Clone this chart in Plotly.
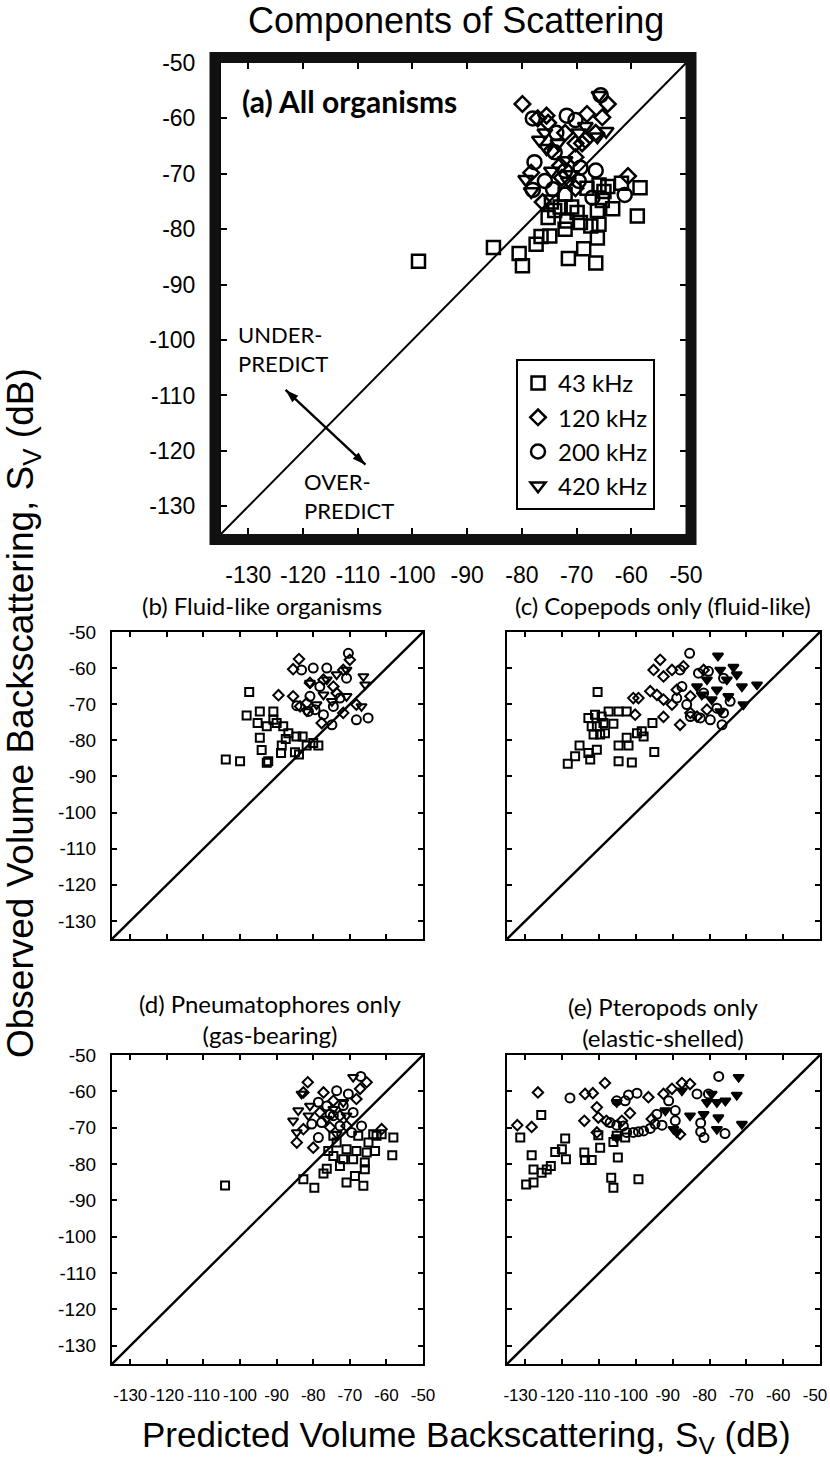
import plotly.graph_objects as go

# ---------------- data ----------------
AXIS_RANGE = [-135, -50]
TICK_VALS = [-130, -120, -110, -100, -90, -80, -70, -60, -50]
TICK_TEXT = ["-130", "-120", "-110", "-100", "-90", "-80", "-70", "-60", "-50"]
FREQ_LABELS = ["43 kHz", "120 kHz", "200 kHz", "420 kHz"]

# (a) All organisms
a_43_x = [-98.9, -85.2, -80.5, -79.9, -77.4, -76.5, -74.9, -75.2, -74.0, -72.1, -71.8, -71.5, -70.9, -72.1, -69.3, -68.7, -67.4, -66.2, -65.9, -66.5, -66.2, -65.3, -65.9, -64.3, -63.4, -61.8, -58.4, -58.9, -68.1, -65.0, -74.6, -73.0, -69.9]
a_43_y = [-85.8, -83.3, -84.4, -86.6, -82.7, -81.3, -81.2, -77.9, -76.6, -80.0, -78.5, -85.3, -76.0, -73.7, -78.8, -83.5, -79.4, -81.6, -79.1, -86.1, -76.6, -74.8, -72.0, -72.3, -76.3, -71.7, -72.5, -77.6, -72.6, -73.2, -75.1, -76.0, -77.0]
a_120_x = [-79.9, -77.1, -75.5, -64.3, -65.3, -68.1, -69.0, -68.4, -70.2, -72.1, -73.0, -70.2, -60.6, -78.3, -76.2, -72.7, -70.2, -75.2, -66.5, -74.6]
a_120_y = [-57.4, -60.0, -59.5, -57.4, -59.8, -59.2, -64.5, -63.9, -64.5, -62.6, -68.5, -67.0, -70.4, -69.8, -75.1, -70.7, -72.6, -60.8, -62.6, -65.8]
a_200_x = [-65.6, -78.0, -71.8, -70.2, -73.7, -77.7, -74.0, -69.3, -66.5, -69.6, -74.3, -78.0, -67.1, -61.2, -72.1, -75.8]
a_200_y = [-55.8, -60.0, -59.5, -60.3, -62.6, -67.9, -66.1, -68.9, -69.4, -71.3, -72.8, -72.9, -74.3, -73.8, -69.5, -71.3]
a_420_x = [-65.9, -64.6, -66.2, -76.8, -75.5, -73.4, -79.3, -78.3, -71.5, -69.6, -68.4, -72.1, -74.6, -70.9, -75.8]
a_420_y = [-55.8, -62.3, -63.3, -63.9, -65.4, -64.5, -71.0, -73.2, -71.3, -62.6, -61.4, -67.6, -69.5, -70.1, -62.6]

# (b) Fluid-like organisms
b_43_x = [-103.9, -100.0, -97.5, -98.2, -94.6, -90.9, -95.2, -92.7, -90.0, -94.6, -94.1, -92.7, -92.3, -88.2, -86.8, -88.6, -88.8, -84.6, -82.9, -85.0, -83.9, -81.8, -78.6, -80.0, -87.5, -90.9]
b_43_y = [-85.3, -85.8, -66.6, -73.1, -72.0, -72.0, -75.2, -76.1, -75.2, -79.3, -82.7, -86.2, -85.8, -76.1, -78.0, -81.4, -83.5, -78.9, -78.9, -83.3, -83.9, -81.4, -81.4, -80.7, -79.6, -74.3]
b_120_x = [-83.9, -85.5, -89.5, -85.5, -83.6, -80.9, -77.2, -74.5, -70.0, -71.8, -77.7, -71.8, -68.2, -81.8, -73.6]
b_120_y = [-57.5, -60.3, -67.5, -67.8, -70.6, -64.1, -63.2, -65.1, -57.7, -60.5, -75.2, -72.4, -70.1, -69.7, -66.9]
b_200_x = [-83.2, -80.0, -76.3, -70.4, -70.9, -80.9, -84.5, -77.2, -74.9, -68.2, -65.0, -74.5, -79.5, -72.7, -78.2, -81.3]
b_200_y = [-60.5, -60.0, -60.0, -55.9, -62.8, -67.8, -70.4, -72.9, -75.7, -74.3, -73.8, -70.6, -71.5, -68.3, -65.1, -72.0]
b_420_x = [-66.3, -65.8, -70.9, -73.6, -77.2, -70.9, -66.8, -80.9, -79.1, -74.9, -81.8, -76.3]
b_420_y = [-62.3, -64.6, -60.5, -61.8, -67.4, -67.8, -70.6, -64.1, -70.1, -69.2, -72.0, -63.2]

# (c) Copepods only (fluid-like)
c_43_x = [-110.4, -118.5, -116.5, -115.3, -112.9, -112.4, -110.6, -109.7, -112.9, -112.0, -111.1, -109.3, -107.4, -111.5, -108.4, -106.1, -104.7, -102.5, -104.7, -102.5, -102.0, -99.7, -98.4, -97.9, -104.7, -101.1, -95.5, -95.0, -110.6, -108.8]
c_43_y = [-66.6, -86.5, -84.4, -81.4, -83.5, -85.3, -82.6, -78.4, -73.8, -76.1, -72.9, -73.4, -72.0, -78.4, -78.0, -75.4, -72.0, -72.0, -81.4, -79.3, -81.4, -78.0, -77.5, -78.9, -85.8, -86.1, -75.2, -83.2, -76.1, -75.2]
c_120_x = [-100.7, -99.3, -100.2, -96.1, -95.2, -93.4, -92.5, -90.2, -94.3, -92.5, -92.5, -88.0, -85.2, -83.4, -90.2, -88.9, -85.2, -80.7, -87.1, -81.6]
c_120_y = [-68.3, -68.3, -72.9, -66.4, -60.5, -57.7, -62.3, -60.5, -67.4, -68.7, -73.5, -75.7, -72.4, -73.4, -70.1, -66.0, -67.8, -71.5, -59.5, -60.5]
c_200_x = [-85.4, -88.0, -83.0, -80.3, -76.2, -88.9, -86.2, -85.2, -82.5, -79.8, -76.6, -74.4, -78.0, -81.6, -76.2, -87.5]
c_200_y = [-55.9, -60.5, -61.4, -60.9, -62.8, -68.3, -70.1, -73.4, -73.8, -74.3, -75.7, -69.2, -71.1, -66.9, -72.4, -65.1]
c_420_x = [-77.7, -73.5, -77.1, -72.6, -71.2, -67.1, -70.8, -74.9, -82.1, -83.4, -79.4, -78.0, -75.3, -80.7, -77.1]
c_420_y = [-56.6, -59.7, -60.5, -61.8, -65.1, -64.6, -70.1, -67.8, -67.4, -65.1, -68.7, -66.0, -63.2, -63.2, -72.0]

# (d) Pneumatophores only (gas-bearing)
d_43_x = [-104.1, -82.7, -79.7, -77.2, -76.3, -72.7, -74.5, -71.8, -70.9, -68.6, -66.3, -65.9, -65.9, -69.1, -68.2, -65.4, -63.1, -64.9, -62.7, -63.6, -61.3, -58.1, -58.4, -73.6, -70.9, -75.9, -74.5, -67.7]
d_43_y = [-85.9, -84.2, -86.5, -82.6, -81.3, -80.5, -77.8, -78.7, -85.1, -83.3, -86.0, -81.4, -79.6, -78.7, -76.4, -76.8, -76.4, -74.1, -72.2, -71.8, -71.8, -72.7, -77.6, -74.1, -75.9, -76.4, -72.2, -72.2]
d_120_x = [-81.5, -82.7, -77.2, -74.5, -65.4, -67.2, -84.5, -80.0, -82.7, -75.4, -61.3, -70.9, -78.2, -72.7, -68.2]
d_120_y = [-57.5, -60.3, -60.3, -62.6, -57.5, -59.3, -74.1, -75.5, -70.4, -69.9, -70.4, -69.5, -65.8, -66.7, -62.1]
d_200_x = [-67.0, -73.6, -70.4, -78.6, -75.4, -77.7, -80.4, -72.7, -69.5, -66.8, -78.6, -74.5, -71.8, -76.3, -69.1]
d_200_y = [-55.9, -59.8, -60.7, -63.0, -66.3, -68.6, -69.0, -69.5, -71.3, -69.5, -72.7, -66.7, -63.9, -64.0, -65.8]
d_420_x = [-69.1, -83.2, -85.5, -84.1, -81.3, -84.5, -74.5, -71.8, -70.9, -76.3, -80.9, -73.6]
d_420_y = [-56.1, -60.7, -68.1, -65.3, -66.7, -71.3, -64.9, -63.0, -66.7, -67.6, -64.0, -71.8]

# (e) Pteropods only (elastic-shelled)
e_43_x = [-131.4, -125.7, -128.3, -127.8, -129.8, -127.8, -125.6, -124.2, -123.1, -121.9, -120.1, -119.2, -119.0, -114.0, -113.8, -112.0, -109.7, -110.2, -106.1, -104.9, -102.9, -106.7, -106.1, -99.3, -105.2]
e_43_y = [-72.7, -66.5, -77.6, -81.5, -85.6, -85.1, -82.4, -81.5, -80.5, -76.7, -75.9, -73.0, -78.7, -76.8, -78.9, -78.9, -75.5, -72.1, -73.9, -78.2, -72.7, -83.8, -86.5, -84.2, -72.2]
e_120_x = [-132.2, -128.3, -126.6, -114.0, -113.8, -111.7, -108.4, -110.6, -110.2, -108.0, -110.6, -101.6, -96.6, -92.5, -90.2, -87.5, -85.3, -88.0, -103.8, -95.7]
e_120_y = [-69.3, -69.8, -60.3, -68.1, -60.7, -60.5, -57.7, -64.4, -67.2, -68.1, -71.3, -66.0, -61.6, -60.7, -59.3, -57.7, -58.0, -71.8, -68.1, -67.6]
e_200_x = [-117.9, -105.2, -102.9, -102.0, -99.7, -107.0, -105.2, -103.4, -102.5, -100.7, -99.3, -97.9, -96.1, -94.8, -94.3, -92.9, -89.3, -89.3, -83.4, -82.4, -82.4, -81.5, -80.3, -77.5, -75.8, -91.1]
e_200_y = [-61.8, -62.6, -62.6, -61.0, -60.5, -68.6, -69.3, -69.5, -71.3, -71.3, -71.1, -70.9, -70.2, -69.0, -66.3, -69.3, -68.1, -65.3, -60.7, -68.7, -71.1, -72.7, -60.7, -55.9, -71.6, -62.6]
e_420_x = [-105.2, -105.2, -92.0, -89.8, -87.5, -85.3, -88.9, -81.6, -79.4, -78.0, -77.6, -78.0, -75.7, -72.6, -72.1, -71.2, -80.7]
e_420_y = [-63.0, -72.7, -65.3, -70.4, -59.8, -66.7, -71.3, -66.3, -60.7, -63.0, -67.2, -70.4, -62.6, -61.0, -56.1, -69.0, -63.0]

# double-headed arrow in panel (a): end points (data units) and head directions (deg)
ARROW_X = [-123.2, -108.6]
ARROW_Y = [-109.0, -122.5]
ARROW_ANGLES = [-47, 133]

# ---------------- figure ----------------
W, H = 830, 1464
TICK_FONT = "Liberation Sans, Arial, sans-serif"
TEXT_FONT = "Lato, Open Sans, sans-serif"
BIG_FONT = "Liberation Sans, Arial, sans-serif"


def px_x(p):
    return p / W


def px_y(p):
    return 1 - p / H


# panel boxes in pixels: (left, right, top, bottom)
panels = {
    "a": (221, 686, 63, 534),
    "b": (112, 423, 632, 939),
    "c": (507, 820, 632, 939),
    "d": (112, 423, 1055, 1364),
    "e": (507, 820, 1055, 1364),
}
axis_ids = {"a": "", "b": "2", "c": "3", "d": "4", "e": "5"}

fig = go.Figure()
open_syms = ["square-open", "diamond-open", "circle-open", "triangle-down-open"]


def add_panel(key, series, filled420=False):
    n = axis_ids[key]
    xa, ya = "x" + n, "y" + n
    is_big = key == "a"
    sizes = [13, 12, 14, 13] if is_big else [8, 8, 9, 9]
    lw = 2.5 if is_big else 2.0
    # diagonal 1:1 line spanning the axis range
    fig.add_trace(go.Scatter(x=AXIS_RANGE, y=AXIS_RANGE, mode="lines",
                             line=dict(color="black", width=2 if is_big else 2.4),
                             xaxis=xa, yaxis=ya, showlegend=False, hoverinfo="skip"))
    for i, (xs, ys) in enumerate(series):
        sym = open_syms[i]
        if i == 3 and filled420:
            sym = "triangle-down"
        fig.add_trace(go.Scatter(
            x=xs, y=ys, mode="markers", name=FREQ_LABELS[i],
            marker=dict(symbol=sym, size=sizes[i], color="black",
                        line=dict(color="black", width=lw)),
            xaxis=xa, yaxis=ya, showlegend=is_big, cliponaxis=False))


add_panel("a", [(a_43_x, a_43_y), (a_120_x, a_120_y), (a_200_x, a_200_y), (a_420_x, a_420_y)])
add_panel("b", [(b_43_x, b_43_y), (b_120_x, b_120_y), (b_200_x, b_200_y), (b_420_x, b_420_y)])
add_panel("c", [(c_43_x, c_43_y), (c_120_x, c_120_y), (c_200_x, c_200_y), (c_420_x, c_420_y)], filled420=True)
add_panel("d", [(d_43_x, d_43_y), (d_120_x, d_120_y), (d_200_x, d_200_y), (d_420_x, d_420_y)])
add_panel("e", [(e_43_x, e_43_y), (e_120_x, e_120_y), (e_200_x, e_200_y), (e_420_x, e_420_y)], filled420=True)

# the UNDER/OVER-PREDICT double arrow
fig.add_trace(go.Scatter(x=ARROW_X, y=ARROW_Y, mode="lines+markers",
                         line=dict(color="black", width=2.4),
                         marker=dict(symbol="arrow", size=14, color="black",
                                     angle=ARROW_ANGLES, angleref="up"),
                         xaxis="x", yaxis="y", showlegend=False, hoverinfo="skip"))

layout = dict(
    width=W, height=H, margin=dict(l=0, r=0, t=0, b=0, pad=0, autoexpand=False),
    paper_bgcolor="white", plot_bgcolor="white",
    showlegend=True,
    legend=dict(x=px_x(516), y=px_y(359), xanchor="left", yanchor="top",
                bordercolor="black", borderwidth=2, bgcolor="white",
                font=dict(family=TEXT_FONT, size=24, color="black"),
                itemwidth=30, tracegroupgap=0),
)

for key, (l, r, t, b) in panels.items():
    n = axis_ids[key]
    is_big = key == "a"
    show_x = key in ("a", "d", "e")
    show_y = key in ("a", "b", "d")
    common = dict(range=AXIS_RANGE, tickvals=TICK_VALS, ticktext=TICK_TEXT, ticks="inside",
                  ticklen=6 if is_big else 5, tickwidth=2, tickcolor="black",
                  showline=True, linecolor="black", linewidth=1 if is_big else 2.2,
                  mirror="ticks", showgrid=False, zeroline=False, tickangle=0,
                  automargin=False, ticklabeloverflow="allow")
    xax = dict(common, domain=[px_x(l), px_x(r)], anchor="y" + n,
               showticklabels=show_x, ticklabelstandoff=20 if is_big else 14,
               ticklabelshift=-5 if key == "e" else 0,
               tickfont=dict(family=TICK_FONT, size=23 if is_big else 17, color="black"))
    yax = dict(common, domain=[px_y(b), px_y(t)], anchor="x" + n,
               showticklabels=show_y, ticklabelstandoff=20 if is_big else 10,
               tickfont=dict(family=TICK_FONT, size=23 if is_big else 19, color="black"))
    layout["xaxis" + n] = xax
    layout["yaxis" + n] = yax

# thick frame around panel (a)
l, r, t, b = panels["a"]
layout["shapes"] = [dict(type="rect", xref="paper", yref="paper",
                         x0=px_x(l - 6), x1=px_x(r + 5), y0=px_y(b + 5.5), y1=px_y(t - 5.5),
                         line=dict(color="#111111", width=11), fillcolor="rgba(0,0,0,0)",
                         layer="above")]

ann = []
ann.append(dict(text="Components of Scattering", x=px_x(456), y=px_y(20), xref="paper", yref="paper",
                showarrow=False, font=dict(family=BIG_FONT, size=36, color="black"),
                xanchor="center", yanchor="middle"))
ann.append(dict(text="Observed Volume Backscattering, S<sub>V</sub> (dB)", x=px_x(23), y=px_y(713),
                xref="paper", yref="paper", showarrow=False, textangle=-90,
                font=dict(family=BIG_FONT, size=37, color="black"), xanchor="center", yanchor="middle"))
ann.append(dict(text="Predicted Volume Backscattering, S<sub>V</sub> (dB)", x=px_x(466), y=px_y(1437),
                xref="paper", yref="paper", showarrow=False,
                font=dict(family=BIG_FONT, size=35, color="black"), xanchor="center", yanchor="middle"))
ann.append(dict(text="<b>(a) All organisms</b>", x=-131.5, y=-56.8, xref="x", yref="y",
                showarrow=False, xanchor="left", yanchor="middle",
                font=dict(family=TEXT_FONT, size=30, color="black")))
ann.append(dict(text="UNDER-<br>PREDICT", x=-132.3, y=-101.7, xref="x", yref="y", showarrow=False,
                xanchor="left", yanchor="middle", align="left",
                font=dict(family=TEXT_FONT, size=22, color="black")))
ann.append(dict(text="OVER-<br>PREDICT", x=-120.2, y=-128.2, xref="x", yref="y", showarrow=False,
                xanchor="left", yanchor="middle", align="left",
                font=dict(family=TEXT_FONT, size=22, color="black")))

panel_titles = [
    ("(b) Fluid-like organisms", 262, 606),
    ("(c) Copepods only (fluid-like)", 663, 606),
    ("(d) Pneumatophores only<br>(gas-bearing)", 270, 1019),
    ("(e) Pteropods only<br>(elastic-shelled)", 663, 1022),
]
for txt, x, y in panel_titles:
    ann.append(dict(text=txt, x=px_x(x), y=px_y(y), xref="paper", yref="paper", showarrow=False,
                    xanchor="center", yanchor="middle",
                    font=dict(family=TEXT_FONT, size=24, color="black")))
layout["annotations"] = ann

fig.update_layout(**layout)
fig.write_html("out.html", config={"displayModeBar": False},
               post_script="document.body.style.margin='0';document.body.style.padding='0';"
                           "document.documentElement.style.overflow='hidden';")
